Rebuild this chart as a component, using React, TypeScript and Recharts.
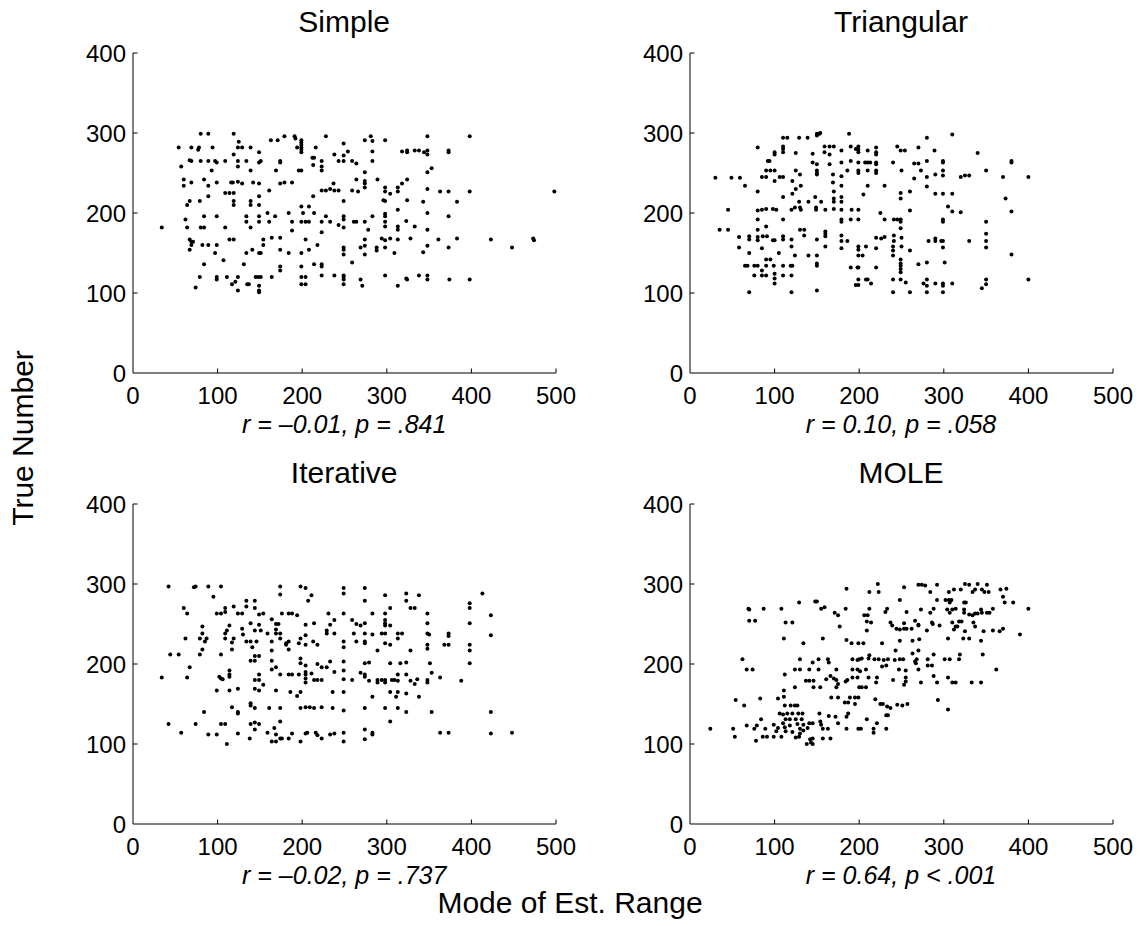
import React from "react";
import { ScatterChart, Scatter, XAxis, YAxis } from "recharts";

type Pt = [number, number];

// x = mode of estimated range, y = true number
const simplePts: Pt[] = [
  [80, 299], [89, 299], [119, 299], [179, 296], [191, 296], [228, 296], [192, 293],
  [199, 291], [199, 288], [199, 285], [199, 282], [199, 279], [199, 276],
  [163, 291], [171, 291], [125, 289], [249, 287],
  [54, 282], [69, 282], [78, 282], [94, 282], [124, 282], [129, 282], [139, 282], [194, 282], [216, 282],
  [77, 279], [254, 277], [149, 276], [119, 273], [238, 273], [249, 272], [212, 269], [214, 269],
  [174, 263], [243, 265], [249, 265],
  [89, 265], [97, 265], [99, 263], [109, 265], [69, 265], [67, 266], [80, 265], [124, 265], [134, 265],
  [151, 265], [149, 263], [174, 265], [223, 265], [259, 265],
  [57, 258], [124, 258], [223, 258], [213, 260],
  [93, 253], [139, 253], [169, 253], [196, 253], [199, 253], [223, 253],
  [60, 242], [84, 242],
  [116, 238], [118, 238], [124, 239], [129, 237], [142, 238], [149, 237], [174, 237], [179, 238], [188, 238],
  [69, 238], [99, 238], [237, 237],
  [60, 234], [89, 234], [233, 230],
  [161, 228], [223, 228], [228, 228], [238, 228], [243, 228], [259, 228],
  [109, 225], [114, 225], [119, 225], [89, 221], [149, 221], [213, 221],
  [67, 215], [79, 215], [119, 215], [139, 215], [249, 215],
  [64, 210], [119, 210], [139, 210], [149, 210], [199, 208], [208, 208],
  [159, 200], [184, 200], [214, 200], [201, 200],
  [84, 196], [99, 196], [134, 196], [149, 196], [168, 196], [228, 196], [249, 196],
  [62, 192], [249, 192],
  [134, 189], [149, 189], [161, 189], [188, 189], [199, 189], [204, 189], [208, 189], [223, 189], [233, 189], [261, 189],
  [243, 185],
  [34, 182], [64, 182], [80, 182], [84, 182], [109, 182], [139, 182], [249, 182],
  [188, 178], [223, 176], [164, 169], [174, 169],
  [67, 167], [114, 167], [119, 167], [154, 167], [204, 167], [69, 164], [71, 164],
  [69, 160], [82, 160], [89, 160], [99, 160], [154, 160], [218, 160], [249, 157],
  [67, 154], [141, 154], [174, 154], [208, 154], [249, 154],
  [97, 150], [134, 150], [149, 150], [151, 150], [184, 150], [199, 150], [249, 148],
  [107, 141], [259, 138], [84, 136], [131, 136], [214, 136], [223, 136],
  [174, 133], [223, 133], [199, 133], [174, 128],
  [223, 122], [238, 122], [249, 122],
  [79, 120], [99, 120], [111, 120], [124, 120], [145, 120], [148, 120], [151, 120], [164, 120], [199, 120], [204, 120], [249, 120],
  [99, 117], [249, 117], [121, 114],
  [117, 111], [135, 111], [137, 111], [199, 111], [204, 111], [249, 111],
  [149, 109], [74, 107], [124, 103], [149, 103], [149, 101],
  [281, 296], [274, 291], [283, 290], [298, 291], [348, 296], [398, 296],
  [283, 277], [318, 277], [324, 278], [324, 276], [333, 278], [338, 278], [344, 276], [348, 278], [348, 273], [373, 278], [373, 276],
  [264, 262], [283, 265], [274, 251], [348, 251], [353, 256],
  [264, 242], [274, 240], [274, 237], [289, 242], [324, 242], [318, 237],
  [274, 232], [266, 227], [298, 232], [298, 227], [304, 224], [313, 232], [313, 227], [348, 230], [363, 227], [373, 227], [398, 227], [498, 227],
  [296, 216], [298, 215], [324, 216], [343, 214], [383, 214],
  [313, 204], [348, 200], [373, 196], [283, 196], [298, 199], [298, 196],
  [264, 189], [274, 189], [298, 189], [323, 190], [298, 183], [278, 179], [313, 183], [313, 179], [333, 183], [348, 179],
  [274, 167], [294, 168], [298, 166], [304, 168], [313, 167], [328, 168], [361, 167], [383, 168], [423, 167], [473, 168], [474, 166],
  [269, 157], [274, 159], [288, 157], [288, 153], [298, 157], [348, 159], [373, 157], [448, 157],
  [274, 148], [309, 150], [343, 151],
  [298, 122], [323, 118], [324, 117], [338, 122], [348, 122], [348, 117], [374, 117], [398, 117], [269, 117],
  [271, 109], [313, 109],
];

const triangularPts: Pt[] = [
  [150, 299], [153, 299], [154, 300], [188, 299],
  [110, 294], [115, 294], [129, 294], [139, 294], [150, 297],
  [80, 282], [110, 283], [110, 280], [110, 276], [159, 283], [165, 283], [170, 283], [179, 278], [190, 283], [196, 280],
  [199, 283], [199, 279], [199, 276], [210, 278], [220, 282], [220, 276], [220, 273], [245, 283], [249, 278], [254, 278],
  [100, 276], [100, 273], [125, 275], [145, 274], [159, 276], [165, 273],
  [92, 265], [94, 265], [145, 263], [150, 261], [165, 261], [179, 263], [190, 265], [199, 263], [207, 263], [210, 263],
  [213, 263], [220, 263], [220, 261], [240, 263], [265, 262],
  [90, 253], [95, 253], [100, 253], [125, 253], [150, 253], [150, 250], [150, 248], [169, 248], [179, 246], [186, 253],
  [199, 253], [199, 250], [210, 253], [220, 253], [220, 250], [250, 253],
  [85, 245], [90, 245], [100, 240], [106, 245], [110, 245], [121, 240], [130, 248],
  [30, 244], [49, 244], [59, 244], [65, 234], [80, 227], [110, 220], [125, 230], [131, 234], [169, 238], [179, 234],
  [210, 234], [230, 234], [249, 225], [249, 218], [260, 227], [265, 243],
  [121, 224], [129, 214], [140, 214], [148, 220], [155, 214], [170, 227], [170, 218], [170, 214], [179, 220], [179, 214], [205, 223],
  [45, 204], [80, 203], [85, 204], [90, 205], [98, 205], [102, 204], [120, 204], [124, 207], [130, 207], [131, 204],
  [149, 204], [149, 207], [160, 204], [170, 205], [179, 204], [191, 204], [199, 204], [260, 203],
  [110, 192], [80, 192], [179, 192], [179, 189], [190, 192], [199, 192], [225, 200], [230, 192], [241, 192], [245, 192],
  [249, 192], [249, 189], [249, 181],
  [35, 179], [45, 179], [80, 179], [90, 183], [130, 179], [135, 179], [135, 172], [160, 177], [160, 174], [160, 171],
  [58, 170], [70, 171], [70, 167], [80, 170], [80, 166], [86, 171], [91, 171], [98, 166], [100, 166], [110, 171],
  [110, 167], [120, 167], [150, 167], [179, 172], [179, 165], [186, 165], [220, 169], [226, 168], [230, 170], [241, 172],
  [241, 165], [250, 169],
  [58, 157], [85, 156], [120, 158], [160, 158], [179, 156], [199, 158], [199, 154], [208, 158], [220, 156], [240, 158],
  [240, 153], [250, 158], [260, 153],
  [70, 150], [105, 150], [124, 147], [140, 147], [150, 147], [199, 147], [204, 147], [240, 147], [249, 142],
  [65, 134], [68, 134], [76, 134], [80, 134], [90, 142], [95, 142], [90, 134], [99, 134], [110, 134], [119, 134],
  [121, 134], [150, 137], [150, 134], [190, 132], [198, 132], [199, 132], [220, 132], [249, 137], [249, 134], [249, 130], [249, 126],
  [76, 122], [85, 122], [90, 122], [100, 124], [100, 118], [100, 112], [110, 122], [120, 122], [85, 128],
  [199, 117], [208, 117], [210, 117], [214, 112], [240, 117], [249, 117], [255, 113], [196, 110], [199, 110],
  [70, 101], [120, 101], [150, 103], [240, 101], [260, 101],
  [280, 294], [310, 298], [270, 282], [289, 278], [340, 275], [270, 262], [280, 265], [299, 265], [299, 263], [380, 265], [380, 263],
  [273, 253], [299, 253], [299, 247], [280, 245], [290, 248], [320, 245], [325, 247], [330, 247], [350, 253], [370, 245], [400, 245],
  [280, 233], [290, 224], [299, 224], [310, 224], [373, 218],
  [305, 208], [310, 202], [320, 201], [380, 202], [299, 192], [299, 189], [350, 189],
  [350, 174], [350, 165], [350, 157], [282, 165], [290, 168], [290, 165], [297, 165], [299, 165], [299, 157], [330, 165],
  [380, 148], [270, 136], [280, 138], [301, 138],
  [280, 117], [276, 112], [280, 109], [290, 112], [299, 112], [299, 109], [310, 112], [350, 117], [350, 111], [345, 106], [400, 117],
  [280, 101], [299, 101],
];

const iterativePts: Pt[] = [
  [42, 297], [72, 296], [74, 297], [89, 297], [104, 297], [174, 297], [174, 287], [198, 297], [204, 295], [249, 295], [249, 288],
  [95, 284], [211, 286], [207, 279],
  [60, 270], [109, 270], [119, 272], [134, 272], [144, 270], [134, 279], [144, 279],
  [64, 263], [99, 263], [104, 263], [109, 265], [124, 263], [129, 263], [149, 262], [154, 263], [176, 263], [184, 263],
  [188, 263], [194, 261], [231, 263], [249, 263],
  [82, 247], [82, 238], [62, 232], [79, 232], [87, 232], [85, 228], [82, 218], [79, 212], [44, 212], [54, 212],
  [67, 196], [64, 183], [34, 183],
  [114, 248], [111, 242], [109, 238], [109, 232], [117, 227], [119, 232], [117, 218], [104, 212],
  [129, 244], [130, 237], [139, 251], [149, 249], [144, 242], [151, 242], [159, 238], [164, 256], [169, 250], [172, 250],
  [169, 243], [169, 238], [174, 238], [174, 232], [181, 226], [181, 224], [184, 228], [184, 218], [196, 226], [198, 232],
  [204, 249], [204, 236], [214, 251], [213, 228], [218, 224], [229, 242], [229, 238], [233, 249], [238, 238], [238, 255],
  [249, 228], [249, 221], [259, 255], [261, 238],
  [134, 228], [139, 228], [146, 228], [141, 221], [164, 228], [164, 217], [204, 224],
  [139, 204], [144, 210], [149, 210], [144, 204], [164, 204], [164, 193], [169, 196], [198, 207], [198, 201], [204, 198],
  [218, 200], [223, 196], [229, 196], [233, 203], [249, 203], [249, 192],
  [114, 192], [114, 187], [114, 184], [102, 184], [104, 182], [106, 181], [144, 180], [149, 180], [149, 187], [154, 174],
  [174, 187], [184, 187], [188, 187], [196, 187], [204, 190], [204, 187], [204, 182], [204, 177], [211, 188], [214, 180],
  [218, 180], [223, 180], [238, 190], [249, 181], [259, 180],
  [99, 167], [114, 167], [124, 169], [144, 169], [149, 167], [169, 167], [186, 165], [194, 160], [198, 165], [236, 165], [249, 165],
  [117, 146], [124, 140], [124, 138], [139, 151], [139, 148], [144, 145], [161, 145], [174, 145], [198, 145], [204, 146],
  [209, 146], [214, 145], [223, 146], [236, 145], [249, 142], [84, 140],
  [42, 125], [74, 125], [104, 125], [109, 125], [139, 125], [144, 127], [149, 125], [167, 120], [174, 128],
  [57, 114], [89, 112], [99, 112], [124, 113], [144, 118], [159, 114], [169, 112], [174, 107], [164, 103], [169, 103],
  [176, 107], [184, 107], [188, 113], [198, 103], [204, 113], [206, 114], [216, 114], [218, 111], [223, 107], [233, 112],
  [238, 113], [249, 114], [249, 103], [111, 100], [138, 107],
  [274, 295], [298, 286], [323, 288], [338, 286], [413, 288], [274, 279], [323, 279], [328, 270], [333, 270], [304, 270],
  [398, 276], [398, 270],
  [283, 263], [298, 263], [348, 263], [423, 261],
  [264, 250], [269, 248], [274, 251], [298, 255], [298, 251], [298, 248], [304, 248], [348, 251], [398, 251],
  [274, 238], [283, 237], [294, 238], [298, 238], [313, 238], [318, 238], [313, 232], [348, 238], [350, 237], [373, 238],
  [373, 235], [423, 236],
  [264, 228], [274, 228], [274, 226], [298, 226], [304, 224], [289, 217], [328, 217], [348, 224], [348, 219], [368, 224],
  [373, 224], [398, 224], [398, 217],
  [274, 201], [279, 202], [304, 201], [316, 201], [323, 202], [351, 201], [398, 201],
  [269, 189], [274, 187], [274, 184], [313, 187], [323, 187], [353, 189], [363, 183],
  [279, 179], [289, 180], [289, 177], [294, 180], [298, 180], [298, 177], [306, 180], [309, 180], [313, 179], [328, 179],
  [333, 175], [336, 181], [348, 180], [348, 177], [388, 179],
  [283, 159], [304, 165], [311, 159], [313, 165], [323, 163], [338, 159],
  [274, 145], [298, 145], [313, 145], [323, 140], [353, 140], [423, 140], [304, 128],
  [274, 118], [283, 114], [283, 112], [363, 114], [373, 114], [423, 113], [448, 114], [274, 106],
];

const molePts: Pt[] = [
  [185, 294], [212, 290], [222, 300], [223, 290], [253, 296], [248, 280],
  [129, 277], [148, 278], [150, 278], [155, 269], [159, 271], [184, 269], [212, 269], [233, 269], [231, 265], [256, 265],
  [171, 264], [175, 261],
  [69, 269], [70, 268], [87, 269], [108, 269], [70, 254], [77, 254], [113, 252], [121, 252], [177, 247], [206, 261],
  [210, 261], [209, 253], [214, 252], [209, 242], [237, 252], [239, 248], [244, 244], [248, 243], [253, 251], [253, 244],
  [256, 244], [266, 254], [262, 244],
  [111, 232], [134, 226], [157, 232], [185, 230], [191, 226], [199, 226], [205, 226], [227, 226], [248, 229], [263, 229],
  [243, 217], [263, 213], [212, 211],
  [62, 206], [67, 193], [74, 193], [112, 187], [130, 206], [124, 193], [130, 193], [141, 193], [145, 202], [152, 206],
  [152, 193], [163, 206], [164, 202], [173, 193], [192, 206], [192, 193], [198, 205], [200, 206], [203, 207], [201, 191],
  [198, 193], [208, 193], [211, 207], [218, 206], [223, 206], [227, 197], [229, 205], [234, 206], [232, 198], [242, 205],
  [248, 206], [252, 206], [247, 193], [255, 192], [266, 203],
  [137, 179], [141, 179], [146, 179], [146, 171], [154, 171], [161, 181], [166, 185], [170, 182], [173, 180], [175, 175],
  [173, 171], [184, 178], [186, 180], [192, 183], [198, 183], [200, 171], [203, 171], [208, 171], [211, 183], [221, 183],
  [220, 177], [240, 180], [255, 183], [255, 178], [253, 174],
  [111, 167], [124, 171], [111, 159], [104, 157], [83, 157], [54, 155], [64, 148], [112, 148], [119, 148], [124, 148],
  [127, 148], [167, 158], [175, 158], [189, 158], [195, 158], [199, 158], [183, 152], [187, 152], [195, 150], [219, 156],
  [225, 150], [228, 150], [233, 147], [237, 145], [245, 149], [251, 148], [257, 150],
  [106, 138], [110, 137], [115, 138], [121, 138], [128, 138], [133, 138], [153, 138], [164, 135], [172, 134], [187, 138],
  [185, 134], [113, 131], [118, 131], [125, 131], [132, 131], [141, 126], [145, 126], [154, 128], [155, 124], [175, 126],
  [209, 131], [221, 126], [232, 136], [234, 136],
  [84, 131], [79, 123], [67, 123], [99, 124], [104, 120], [110, 126], [112, 121], [118, 123], [127, 125], [134, 124],
  [130, 119], [139, 120], [157, 119], [163, 119], [185, 119], [199, 119], [202, 119], [217, 119], [217, 114], [232, 119],
  [24, 119], [51, 119], [76, 119], [89, 119], [102, 116], [113, 116], [121, 115], [130, 113], [134, 117],
  [53, 109], [78, 104], [86, 109], [91, 109], [99, 109], [108, 109], [125, 108], [129, 109], [138, 100], [142, 106],
  [143, 102], [145, 107], [157, 107], [166, 107], [145, 100],
  [270, 299], [274, 299], [278, 298], [292, 299], [325, 300], [330, 299], [340, 300], [351, 299], [284, 290], [306, 290],
  [312, 293], [320, 293], [334, 290], [337, 293], [345, 293], [348, 290], [353, 290], [367, 293], [374, 294], [370, 284],
  [372, 277], [382, 277], [292, 280], [302, 280], [306, 280], [309, 280], [307, 277], [324, 277], [326, 277],
  [273, 268], [284, 264], [288, 269], [304, 268], [307, 264], [310, 268], [314, 269], [324, 268], [324, 264], [330, 262],
  [334, 261], [337, 263], [340, 263], [344, 268], [345, 264], [351, 264], [354, 264], [358, 269], [400, 269],
  [270, 249], [286, 252], [287, 250], [295, 248], [310, 252], [314, 247], [312, 243], [316, 247], [318, 253], [321, 253],
  [325, 241], [335, 252], [337, 247], [347, 241], [358, 242], [366, 241], [370, 244], [390, 237], [280, 242], [270, 248],
  [271, 231], [305, 232], [323, 232], [330, 232], [344, 229], [270, 217], [288, 212], [319, 212], [346, 212],
  [268, 206], [281, 206], [301, 206], [307, 206], [318, 206], [267, 201], [281, 198], [286, 198], [270, 193], [362, 193],
  [288, 185], [305, 183], [273, 177], [292, 177], [310, 177], [314, 177], [333, 177], [344, 177], [293, 155], [305, 143],
];

const xTicks = [0, 100, 200, 300, 400, 500];
const yTicks = [0, 100, 200, 300, 400];

const FONT = "'Liberation Sans', Arial, Helvetica, sans-serif";
const PLOT_W = 423;
const PLOT_H = 320;

const panels = [
  { title: "Simple", stat: "r = \u20130.01, p = .841", pts: simplePts, left: 132.7, top: 52.7 },
  { title: "Triangular", stat: "r = 0.10, p = .058", pts: triangularPts, left: 689.5, top: 52.7 },
  { title: "Iterative", stat: "r = \u20130.02, p = .737", pts: iterativePts, left: 132.7, top: 503.7 },
  { title: "MOLE", stat: "r = 0.64, p < .001", pts: molePts, left: 689.5, top: 503.7 },
];

const XTick = (props: any) => {
  const { x, y, payload } = props;
  return (
    <g>
      {payload.value !== 0 && <line x1={x} y1={y} x2={x} y2={y - 4.5} stroke="#000" />}
      <text x={x} y={y + 31} textAnchor="middle" fontSize={24} fontFamily={FONT} fill="#000">
        {payload.value}
      </text>
    </g>
  );
};

const YTick = (props: any) => {
  const { x, y, payload } = props;
  return (
    <g>
      {payload.value !== 0 && <line x1={x} y1={y} x2={x + 4.5} y2={y} stroke="#000" />}
      <text x={x - 7} y={y + 8.5} textAnchor="end" fontSize={24} fontFamily={FONT} fill="#000">
        {payload.value}
      </text>
    </g>
  );
};

const Dot = (props: any) => <circle cx={props.cx} cy={props.cy} r={2} fill="#000" />;

function Panel({ pts, left, top }: { pts: Pt[]; left: number; top: number }) {
  const data = pts.map(([x, y]) => ({ x, y }));
  return (
    <div style={{ position: "absolute", left: left - 80, top: top - 20 }}>
      <ScatterChart width={80 + PLOT_W + 20} height={20 + PLOT_H + 50} margin={{ top: 20, right: 20, bottom: 0, left: 0 }}>
        <XAxis
          type="number"
          dataKey="x"
          domain={[0, 500]}
          ticks={xTicks}
          interval={0}
          tickSize={0}
          tickMargin={0}
          tickLine={false}
          axisLine={{ stroke: "#000" }}
          tick={XTick}
          height={50}
        />
        <YAxis
          type="number"
          dataKey="y"
          domain={[0, 400]}
          ticks={yTicks}
          interval={0}
          tickSize={0}
          tickMargin={0}
          tickLine={false}
          axisLine={{ stroke: "#000" }}
          tick={YTick}
          width={80}
        />
        <Scatter data={data} fill="#000" shape={Dot} isAnimationActive={false} />
      </ScatterChart>
    </div>
  );
}

export default function App() {
  return (
    <div style={{ position: "relative", width: 1142, height: 926, background: "#fff", fontFamily: FONT }}>
      <style>{"body{margin:0}"}</style>
      {panels.map((p) => (
        <Panel key={p.title} pts={p.pts} left={p.left} top={p.top} />
      ))}
      <svg width={1142} height={926} style={{ position: "absolute", left: 0, top: 0, pointerEvents: "none" }}>
        {panels.map((p) => (
          <g key={p.title}>
            <text x={p.left + PLOT_W / 2} y={p.top - 21} textAnchor="middle" fontSize={30} fontFamily={FONT} fill="#000">
              {p.title}
            </text>
            <text
              x={p.left + PLOT_W / 2}
              y={p.top + PLOT_H + 60}
              textAnchor="middle"
              fontSize={25}
              fontStyle="italic"
              fontFamily={FONT}
              fill="#000"
            >
              {p.stat}
            </text>
          </g>
        ))}
        <text x={33} y={438} transform="rotate(-90, 33, 438)" textAnchor="middle" fontSize={30} fontFamily={FONT} fill="#000">
          True Number
        </text>
        <text x={570} y={913} textAnchor="middle" fontSize={30} fontFamily={FONT} fill="#000">
          Mode of Est. Range
        </text>
      </svg>
    </div>
  );
}
